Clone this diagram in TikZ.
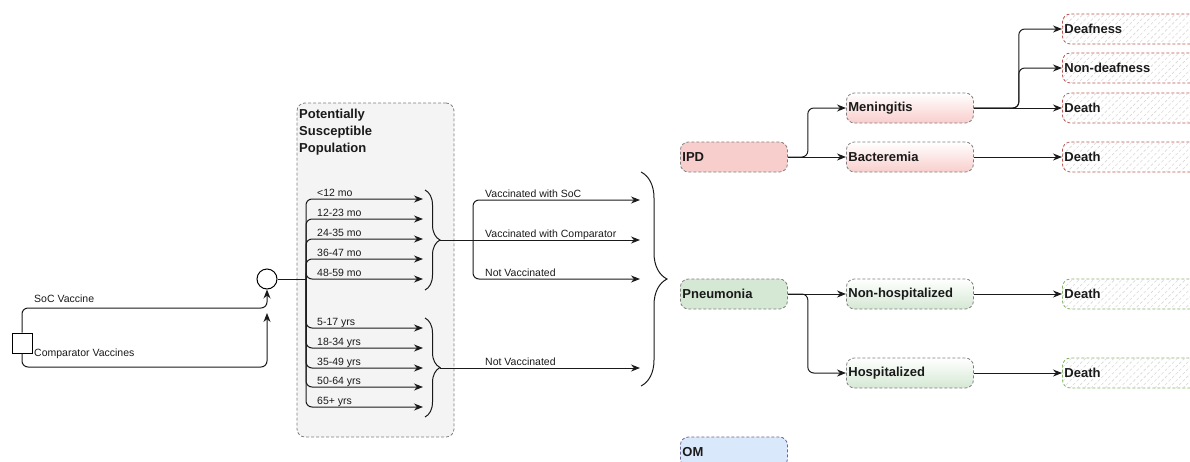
\documentclass[tikz,border=0pt]{standalone}
\usepackage{fontspec}
\setmainfont{Liberation Sans}
\usepackage{xcolor}
\usepackage{tikz}
\usetikzlibrary{positioning,calc,arrows.meta,decorations.pathreplacing,patterns.meta}
\definecolor{ipdfill}{HTML}{F8CECC}
\definecolor{pnefill}{HTML}{D5E8D4}
\definecolor{omfill}{HTML}{DAE8FC}
\definecolor{redline}{HTML}{B85450}
\definecolor{greenline}{HTML}{82B366}
\definecolor{boxline}{HTML}{7F7F7F}
\definecolor{popfill}{HTML}{F4F4F4}
\definecolor{inkdark}{HTML}{1A1A1A}

\begin{document}
\begin{tikzpicture}[x=1pt, y=-1pt,
  txt/.style={font=\fontsize{10.5}{12}\selectfont, inner sep=0pt, text=inkdark},
  conn/.style={-{Stealth[length=9pt,width=7pt]}, line width=1pt, rounded corners=6pt, inkdark},
  lnk/.style={line width=1pt, rounded corners=6pt, inkdark},
  brc/.style={decorate, decoration={brace, amplitude=15pt}, line width=1pt, inkdark},
  dbox/.style={draw=boxline, dash pattern=on 3pt off 2pt, line width=0.8pt, rounded corners=8pt, anchor=west, minimum height=30pt, inner xsep=2pt, align=left, font=\fontsize{13}{15}\selectfont\bfseries, text=inkdark},
  catbox/.style={dbox, text width=103pt},
  subbox/.style={dbox, text width=123pt, shading angle=45},
  endbox/.style={dbox, text width=146pt, fill=white, postaction={pattern={Lines[angle=45, distance=5pt, line width=0.6pt]}, pattern color=gray!30}},
  popbox/.style={draw=boxline, dash pattern=on 3pt off 2pt, line width=0.8pt, rounded corners=8pt, fill=popfill},
]
\clip (0,0) rectangle (1190,461);

% population box in the back
\node[popbox, minimum width=157pt, minimum height=334pt] (psp) at (375.5,270) {};
\node[anchor=north west, align=left, inner sep=0pt, font=\fontsize{13}{17}\selectfont\bfseries, text=inkdark] (psptitle) at (299,109) {Potentially\\Susceptible\\Population};

% vaccine choice
\node[draw, line width=1pt, minimum width=20pt, minimum height=20pt, inner sep=0pt] (cmp) at (22,343) {};
\node[circle, draw, line width=1pt, minimum size=20pt, inner sep=0pt] (dec) at (267,279) {};
\coordinate (cin) at (267,313);
\draw[conn] (cmp.north) |- (dec.south |- 0,308) -- (dec.south);
\draw[conn] (cmp.south) |- (cin |- 0,367) -- (cin);
\node[txt, anchor=base west] (soclab) at (34,302) {SoC Vaccine};
\node[txt, anchor=base west] (cmplab) at (34,356) {Comparator Vaccines};

% age groups
\coordinate (trunk) at (306,279);
\draw[lnk] (dec.east) -- (trunk);
\foreach \lab/\yy [count=\i] in {{<12 mo}/199,{12-23 mo}/219,{24-35 mo}/239,{36-47 mo}/259,{48-59 mo}/279,{5-17 yrs}/328,{18-34 yrs}/348,{35-49 yrs}/368,{50-64 yrs}/387,{65+ yrs}/407} {
  \coordinate (age\i) at (423,\yy);
  \draw[conn] (trunk) |- (age\i);
  \node[txt, anchor=base west] (agelab\i) at (317,\yy-3) {\lab};
}

% braces and vaccination status
\draw[brc] (425,190) -- (425,290);
\draw[brc] (425,318) -- (425,417);
\coordinate (tipa) at (440,240);
\coordinate (tipb) at (440,368);
\coordinate (split) at (473,240);
\coordinate (vsoc) at (640,200);
\coordinate (vcmp) at (640,240);
\coordinate (vnot) at (640,279);
\coordinate (vnotb) at (640,368);
\draw[lnk] (tipa) -- (split);
\draw[conn] (split) |- (vsoc);
\draw[conn] (split) -- (vcmp);
\draw[conn] (split) |- (vnot);
\draw[conn] (tipb) -- (vnotb);
\node[txt, anchor=base west] (socl) at (485,197) {Vaccinated with SoC};
\node[txt, anchor=base west] (cmpl) at (485,237) {Vaccinated with Comparator};
\node[txt, anchor=base west] (notl) at (485,276) {Not Vaccinated};
\node[txt, anchor=base west] (notlb) at (485,365) {Not Vaccinated};
\draw[brc, decoration={brace, amplitude=26pt}] (641,172) -- (641,386);

% diseases
\node[catbox, fill=ipdfill] (ipd) at (680,157) {IPD};
\node[catbox, fill=pnefill] (pne) at (680,294) {Pneumonia};
\node[catbox, fill=omfill, draw=boxline!80!blue] (om) at (680,452) {OM};

\node[subbox, top color=white, bottom color=ipdfill] (men) at (846,108) {Meningitis};
\node[subbox, top color=white, bottom color=ipdfill] (bac) at (846,157) {Bacteremia};
\node[subbox, top color=white, bottom color=pnefill] (nonh) at (846,294) {Non-hospitalized};
\node[subbox, top color=white, bottom color=pnefill] (hos) at (846,373) {Hospitalized};

\node[endbox, draw=redline] (deaf) at (1062,29) {Deafness};
\node[endbox, draw=redline] (nondeaf) at (1062,68) {Non-deafness};
\node[endbox, draw=redline] (mdeath) at (1062,108) {Death};
\node[endbox, draw=redline] (bdeath) at (1062,157) {Death};
\node[endbox, draw=greenline] (ndeath) at (1062,294) {Death};
\node[endbox, draw=greenline] (hdeath) at (1062,373) {Death};

% outcome arrows
\draw[conn] (ipd.east) -- ++(20,0) |- (men.west);
\draw[conn] (ipd.east) -- (bac.west);
\draw[conn] (men.east) -- ++(45,0) |- (deaf.west);
\draw[conn] (men.east) -- ++(45,0) |- (nondeaf.west);
\draw[conn] (men.east) -- (mdeath.west);
\draw[conn] (bac.east) -- (bdeath.west);
\draw[conn] (pne.east) -- (nonh.west);
\draw[conn] (pne.east) -- ++(20,0) |- (hos.west);
\draw[conn] (nonh.east) -- (ndeath.west);
\draw[conn] (hos.east) -- (hdeath.west);
\end{tikzpicture}
\end{document}
